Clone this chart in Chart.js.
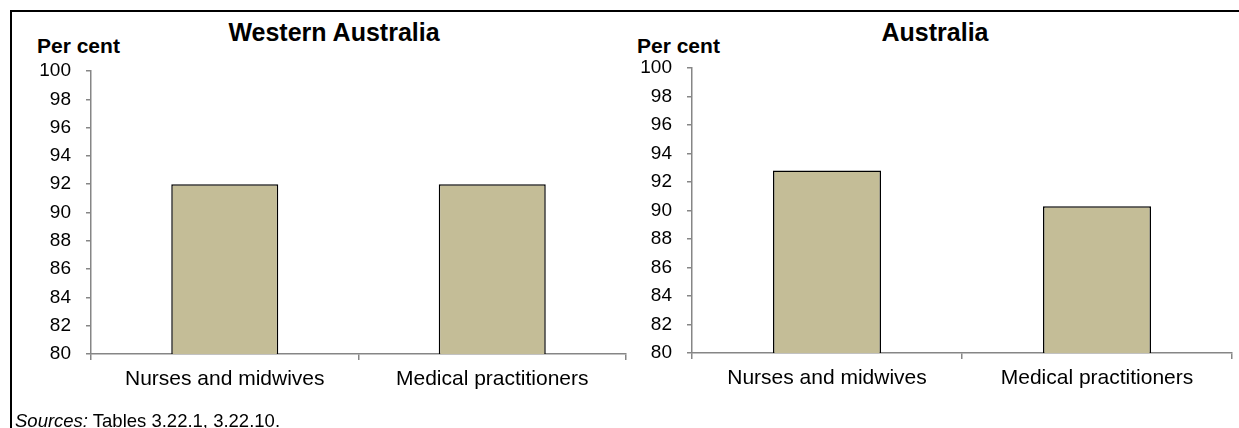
<!DOCTYPE html>
<html>
<head>
<meta charset="utf-8">
<script src="https://cdn.jsdelivr.net/npm/chart.js@4/dist/chart.umd.min.js"></script>
<style>
  body { margin:0; background:#fff; width:1239px; height:428px; overflow:hidden; position:relative;
         font-family:"Liberation Sans", Arial, sans-serif; color:#000; }
  .frame { position:absolute; left:10px; top:10px; width:1300px; height:500px;
           border-top:2px solid #000; border-left:2px solid #000; }
  .title { position:absolute; top:18px; font-size:25px; font-weight:bold; transform:translateX(-50%); white-space:nowrap; }
  .unit { position:absolute; top:34px; font-size:21px; font-weight:bold; white-space:nowrap; }
  .src { position:absolute; left:15px; top:410px; font-size:18.5px; white-space:nowrap; }
  canvas { position:absolute; top:0; }
</style>
</head>
<body>
<div class="frame"></div>
<div class="title" style="left:334px">Western Australia</div>
<div class="title" style="left:935px">Australia</div>
<div class="unit" style="left:37px">Per cent</div>
<div class="unit" style="left:637px">Per cent</div>
<canvas id="chartWA" width="630" height="428" style="left:0"></canvas>
<canvas id="chartAus" width="609" height="428" style="left:630px"></canvas>
<div class="src"><i>Sources:</i> Tables 3.22.1, 3.22.10.</div>
<script>
var categories = ['Nurses and midwives', 'Medical practitioners'];
var waValues = [92.0, 92.0];
var ausValues = [92.8, 90.3];
var yTicks = [80, 82, 84, 86, 88, 90, 92, 94, 96, 98, 100];

var fontFamily = '"Liberation Sans", Arial, sans-serif';
var axisColor = '#868686';
var barColor = '#C4BD97';

function makeChart(id, values, yWidth, pad){
	var ctx = document.getElementById(id).getContext('2d');
	return new Chart(ctx, {
		type : 'bar',
		data : {
			labels : categories,
			datasets : [{
				data : values,
				backgroundColor : barColor,
				borderColor : '#000',
				borderWidth : 1.5,
				borderSkipped : 'bottom',
				categoryPercentage : 1,
				barPercentage : 0.4
			}]
		},
		options : {
			responsive : false,
			devicePixelRatio : 1,
			animation : false,
			layout : { padding : pad },
			plugins : { legend : { display : false }, tooltip : { enabled : false } },
			scales : {
				x : {
					grid : { offset : true, drawOnChartArea : false, tickLength : 6, color : axisColor, lineWidth : 1.5 },
					border : { color : axisColor, width : 1.5 },
					ticks : { color : '#000', padding : 7, font : { family : fontFamily, size : 21 } },
					afterFit : function(s){ s.height = 40; }
				},
				y : {
					min : yTicks[0],
					max : yTicks[yTicks.length - 1],
					afterBuildTicks : function(s){ s.ticks = yTicks.map(function(v){ return { value : v }; }); },
					grid : { drawOnChartArea : false, tickLength : 5, color : axisColor, lineWidth : 1.5 },
					border : { color : axisColor, width : 1.5 },
					ticks : { color : '#000', padding : 15, font : { family : fontFamily, size : 19 } },
					afterFit : function(s){ s.width = yWidth; }
				}
			}
		}
	});
}

makeChart('chartWA', waValues, 91, { left : 0, top : 71, right : 4, bottom : 34 });
makeChart('chartAus', ausValues, 62, { left : 0, top : 68, right : 7, bottom : 35 });
</script>
</body>
</html>
